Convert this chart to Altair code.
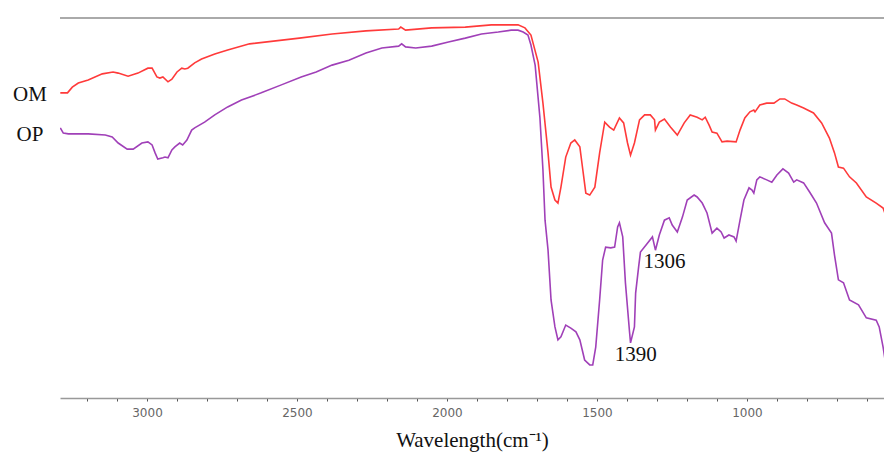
import altair as alt
import pandas as pd

# OM spectrum (wavenumber cm^-1, transmittance %)
om_wn = [3289, 3265, 3249, 3229, 3196, 3149, 3113, 3096, 3063, 3030, 2997, 2983, 2967, 2957, 2947,
         2930, 2917, 2900, 2884, 2874, 2864, 2841, 2818, 2774, 2731, 2658, 2492, 2383, 2270, 2161,
         2154, 2138, 2051, 1939, 1852, 1763, 1740, 1720, 1696, 1680, 1663, 1653, 1640, 1630, 1620,
         1604, 1587, 1574, 1557, 1547, 1537, 1524, 1507, 1491, 1474, 1458, 1444, 1425, 1411, 1398,
         1388, 1375, 1358, 1341, 1322, 1308, 1305, 1292, 1275, 1255, 1232, 1209, 1189, 1166, 1149,
         1139, 1126, 1116, 1100, 1083, 1066, 1036, 1023, 1007, 990, 977, 973, 957, 934, 910,
         890, 874, 851, 834, 811, 778, 751, 725, 708, 695, 678, 658, 635, 602, 569,
         546, 529]
om_t = [80.3, 80.3, 81.8, 82.9, 83.7, 85.3, 85.8, 85.5, 84.7, 85.5, 86.8, 86.8, 84.5, 84.2, 84.5,
        83.2, 83.9, 85.8, 86.8, 86.6, 86.8, 88.2, 89.2, 90.5, 91.6, 93.2, 94.7, 95.8, 96.6, 97.1,
        97.6, 96.8, 97.4, 97.6, 98.2, 98.2, 97.4, 95.5, 88.4, 77.6, 64.5, 55.5, 52.1, 51.3, 55.5,
        63.4, 67.1, 67.9, 66.1, 60.0, 53.9, 53.4, 55.5, 64.5, 72.6, 71.3, 70.5, 73.7, 72.4, 67.1,
        63.9, 67.1, 73.2, 74.5, 74.5, 73.2, 70.5, 72.6, 73.4, 71.3, 69.2, 72.4, 74.5, 73.9, 73.2,
        73.9, 71.8, 70.0, 69.7, 67.4, 67.6, 67.4, 70.5, 73.7, 75.3, 75.8, 75.3, 77.1, 77.6, 77.6,
        78.7, 78.7, 77.6, 77.1, 76.3, 75.0, 72.4, 68.4, 64.5, 60.8, 60.5, 58.2, 56.6, 52.9, 51.3,
        50.0, 46.1]

# OP spectrum
op_wn = [3289, 3279, 3262, 3196, 3139, 3116, 3096, 3066, 3046, 3017, 2997, 2983, 2973, 2964, 2947,
         2940, 2930, 2917, 2907, 2891, 2881, 2867, 2851, 2841, 2808, 2774, 2731, 2685, 2619, 2552,
         2486, 2436, 2383, 2327, 2270, 2217, 2161, 2151, 2138, 2104, 2051, 1995, 1939, 1885, 1829,
         1786, 1763, 1746, 1730, 1720, 1706, 1696, 1690, 1680, 1673, 1663, 1653, 1640, 1630, 1620,
         1604, 1587, 1570, 1557, 1541, 1524, 1514, 1504, 1491, 1481, 1471, 1454, 1441, 1431, 1425,
         1414, 1405, 1391, 1388, 1375, 1371, 1361, 1355, 1331, 1315, 1305, 1292, 1275, 1259, 1249,
         1232, 1215, 1199, 1176, 1166, 1149, 1133, 1116, 1100, 1086, 1076, 1060, 1043, 1036, 1023,
         1010, 993, 983, 977, 967, 957, 934, 917, 900, 880, 861, 844, 834, 811, 791,
         768, 741, 718, 708, 695, 678, 658, 628, 602, 569, 559, 546, 536, 529]
op_t = [71.1, 69.7, 69.5, 69.5, 69.2, 68.7, 67.1, 65.5, 65.5, 67.1, 67.4, 66.6, 64.5, 62.9, 63.2,
        63.4, 63.2, 65.3, 66.1, 67.1, 66.6, 67.9, 70.5, 71.1, 72.6, 74.5, 76.6, 78.4, 80.3, 82.4,
        84.5, 85.8, 87.6, 88.9, 90.8, 92.1, 92.6, 93.2, 92.4, 92.1, 92.6, 93.7, 94.7, 95.8, 96.3,
        96.8, 96.8, 96.3, 95.5, 92.9, 87.6, 78.9, 73.7, 60.0, 46.8, 38.9, 25.8, 18.7, 15.3, 16.1,
        19.2, 18.4, 17.4, 15.3, 10.0, 8.7, 8.7, 13.4, 25.8, 36.3, 39.7, 39.5, 39.7, 45.0, 46.1,
        42.4, 30.3, 17.1, 14.5, 18.7, 27.6, 34.5, 38.4, 40.8, 42.4, 38.9, 42.9, 46.8, 47.4, 45.5,
        43.7, 47.6, 52.1, 53.4, 52.9, 51.3, 48.7, 43.4, 44.7, 43.7, 42.1, 42.9, 42.4, 41.3, 46.8,
        52.1, 55.3, 54.7, 53.9, 57.4, 58.2, 57.4, 56.8, 58.7, 60.3, 59.2, 56.8, 57.4, 56.6, 54.2,
        51.3, 46.1, 43.4, 37.6, 31.1, 30.3, 25.8, 24.5, 21.1, 20.5, 18.7, 13.4, 8.2, 4.7]

series_names = ["OM", "OP"]
series_colors = ["#ff3a3a", "#a040b8"]

# annotations
ann_text = ["OM", "OP", "1306", "1390"]
ann_wn = [3390, 3390, 1275, 1371]
ann_t = [79.7, 69.2, 35.8, 11.3]

tick_values = list(range(600, 3300, 100))
x_min, x_max = 543, 3290

df = pd.concat([
    pd.DataFrame({"wn": om_wn, "T": om_t, "s": "OM"}),
    pd.DataFrame({"wn": op_wn, "T": op_t, "s": "OP"}),
], ignore_index=True)
ann = pd.DataFrame({"wn": ann_wn, "T": ann_t, "label": ann_text})

xscale = alt.Scale(domain=[x_min, x_max], reverse=True, nice=False, zero=False)
yscale = alt.Scale(domain=[0, 100], nice=False, zero=False)

xaxis = alt.Axis(values=tick_values, format="d",
                 labelExpr="datum.value % 500 == 0 ? datum.label : ''",
                 title="Wavelength(cm⁻¹)", titleFont="Liberation Serif",
                 titleFontSize=21, titleFontWeight="normal", titleColor="#111",
                 titlePadding=11, labelFont="DejaVu Sans", labelFontSize=12,
                 labelColor="#666", labelPadding=6, tickSize=3, tickColor="#555",
                 domainColor="#999", domainWidth=1.5, grid=False)

lines = alt.Chart(df).mark_line(strokeWidth=1.6, clip=True).encode(
    x=alt.X("wn:Q", scale=xscale, axis=xaxis),
    y=alt.Y("T:Q", scale=yscale, axis=None),
    color=alt.Color("s:N", scale=alt.Scale(domain=series_names, range=series_colors), legend=None),
)

top = alt.Chart(pd.DataFrame({"T": [100]})).mark_rule(color="#aaaaaa", strokeWidth=2).encode(
    y=alt.Y("T:Q", scale=yscale, axis=None)
)

texts = alt.Chart(ann).mark_text(font="Liberation Serif", fontSize=21, color="#111",
                                 align="center", baseline="middle").encode(
    x=alt.X("wn:Q", scale=xscale, axis=xaxis),
    y=alt.Y("T:Q", scale=yscale, axis=None),
    text="label:N",
)

chart = alt.layer(top, lines, texts).properties(
    width=824, height=380,
    autosize=alt.AutoSizeParams(type="none"),
    padding={"left": 52, "top": 10, "right": 0, "bottom": 55},
).configure_view(stroke=None)

chart.save("out.html", embed_options={"renderer": "svg", "actions": False})
